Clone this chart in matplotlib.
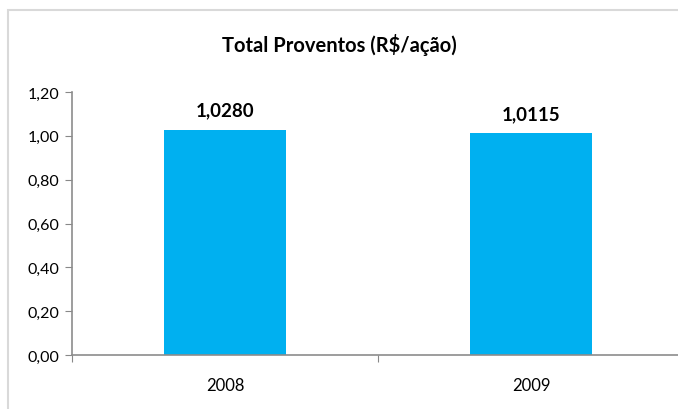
import matplotlib
matplotlib.use('Agg')
import matplotlib.pyplot as plt
from matplotlib.patches import Rectangle

# dados
anos = ['2008', '2009']
proventos = [1.0280, 1.0115]
y_ticks = [0.0, 0.2, 0.4, 0.6, 0.8, 1.0, 1.2]

plt.rcParams['font.family'] = ['Lato', 'DejaVu Sans']

fig = plt.figure(figsize=(6.78, 4.10), dpi=100)

# moldura cinza do gráfico
fig.patches.append(Rectangle((8 / 678, -0.05), 1.0, (410 - 11) / 410 + 0.05,
                             transform=fig.transFigure, fill=False,
                             edgecolor='#d9d9d9', linewidth=1.5))

ax = fig.add_axes([72 / 678, (410 - 356) / 410, 612 / 678, 263 / 410])
x = range(len(anos))
ax.bar(x, proventos, width=0.40, color='#00B0F0', zorder=2)

for xi, v in zip(x, proventos):
    ax.annotate(f'{v:.4f}'.replace('.', ','), (xi, v), xytext=(0, 8),
                textcoords='offset points', ha='center', va='bottom',
                fontsize=13.5, fontweight='bold')

ax.set_xlim(-0.5, 1.5)
ax.set_ylim(0, 1.2)
ax.set_yticks(y_ticks)
ax.set_yticklabels([f'{t:.2f}'.replace('.', ',') for t in y_ticks])

# rótulos das categorias no centro, marcas nas divisões
ax.set_xticks([-0.5, 0.5, 1.5])
ax.set_xticklabels([])
ax.set_xticks(list(x), minor=True)
ax.set_xticklabels(anos, minor=True)
ax.tick_params(axis='x', which='minor', length=0, pad=16, labelsize=12)
ax.tick_params(axis='x', which='major', length=5, color='#888888', direction='out')
ax.tick_params(axis='y', length=5, color='#888888', labelsize=11.5, pad=4)

for s in ['top', 'right']:
    ax.spines[s].set_visible(False)
for s in ['left', 'bottom']:
    ax.spines[s].set_color('#8c8c8c')
    ax.spines[s].set_linewidth(1.2)

fig.text(0.5, (410 - 45) / 410, 'Total Proventos (R$/ação)', ha='center', va='center',
         fontsize=14.5, fontweight='bold')

fig.savefig('out.png', dpi=100)
